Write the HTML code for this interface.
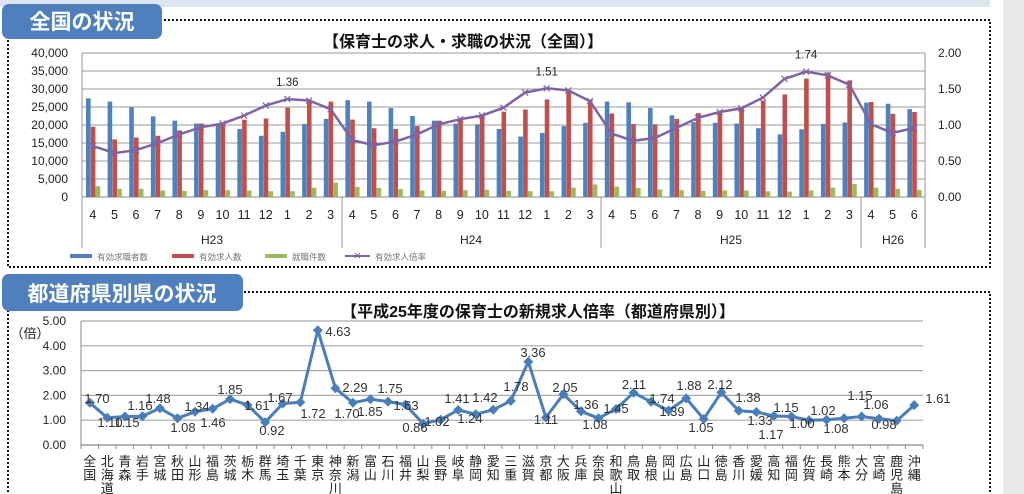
<!DOCTYPE html>
<html><head><meta charset="utf-8"><style>
body{margin:0;width:1024px;height:494px;overflow:hidden;background:#fff;font-family:"Liberation Sans","Noto Sans CJK JP",sans-serif;}
svg{position:absolute;left:0;top:0}
</style></head><body>
<svg id="s" width="1024" height="494" xmlns="http://www.w3.org/2000/svg" font-family="Liberation Sans, Noto Sans CJK JP, sans-serif">
<rect x="0" y="0" width="990" height="7" fill="#dce6f2"/>
<rect x="1003" y="0" width="21" height="494" fill="#e9e9e9"/>
<rect x="8" y="20" width="982" height="247" fill="none" stroke="#111" stroke-width="2" stroke-dasharray="2,2"/>
<rect x="8" y="292" width="982" height="220" fill="none" stroke="#111" stroke-width="2" stroke-dasharray="2,2"/>
<rect x="2" y="4" width="160" height="35" rx="7" fill="#4f7fbd"/>
<text x="82" y="29" font-size="21" font-weight="bold" fill="#fff" text-anchor="middle">全国の状況</text>
<rect x="2" y="274" width="241" height="37" rx="7" fill="#4f7fbd"/>
<text x="122" y="301" font-size="21" font-weight="bold" fill="#fff" text-anchor="middle">都道府県別県の状況</text>
<text x="463" y="47" font-size="16" font-weight="bold" fill="#111" text-anchor="middle">【保育士の求人・求職の状況（全国）】</text>
<text x="538" y="317" font-size="16" font-weight="bold" fill="#111" text-anchor="middle">【平成25年度の保育士の新規求人倍率（都道府県別）】</text>
<text x="30" y="338" font-size="13" fill="#222" text-anchor="middle">（倍）</text>
<g id="top"></g><g id="bot"></g>
</svg>
<script>
var NS="http://www.w3.org/2000/svg";
function el(p,t,a,txt){var e=document.createElementNS(NS,t);for(var k in a)e.setAttribute(k,a[k]);if(txt!==undefined)e.textContent=txt;p.appendChild(e);return e;}
var T=document.getElementById("top");
var L=82,R=925,Y0=197,Y1=53,n=39,w=(R-L)/n;
for(var i=0;i<=8;i++){var y=Y0-i*18;el(T,"line",{x1:L,x2:R,y1:y,y2:y,stroke:i==0?"#888":"#999","stroke-width":1});
el(T,"text",{x:68,y:y+4,"font-size":12,fill:"#222","text-anchor":"end"},(i*5000).toLocaleString("en-US"));}
for(var i=0;i<=4;i++){var y=Y0-i*36;el(T,"text",{x:938,y:y+4,"font-size":12,fill:"#222"},(i*0.5).toFixed(2));}
el(T,"line",{x1:L,x2:L,y1:Y1,y2:248,stroke:"#999"});el(T,"line",{x1:R,x2:R,y1:Y1,y2:248,stroke:"#999"});
[342,601,861].forEach(function(x){el(T,"line",{x1:x,x2:x,y1:Y0,y2:248,stroke:"#999"});});
var B=[27.4,26.5,24.9,22.4,21.2,20.4,20.4,18.9,17.0,18.1,20.3,21.7,26.9,26.5,24.7,22.5,21.2,20.4,20.2,18.9,16.8,17.8,19.7,20.6,26.5,26.3,24.7,22.7,20.8,20.6,20.4,19.1,17.4,18.8,20.3,20.7,26.2,25.9,24.4];
var Rd=[19.5,16.0,16.5,17.0,18.5,20.4,20.4,21.5,21.8,24.8,27.1,26.5,21.5,19.1,18.9,19.7,21.2,21.5,22.5,23.7,24.3,27.1,29.4,27.1,23.2,20.3,20.2,21.7,23.3,23.4,24.6,26.8,28.5,32.9,34.6,32.4,26.4,23.1,23.6];
var G=[3,2.3,2.3,1.8,1.7,1.9,1.9,1.8,1.6,1.6,2.6,4.0,2.8,2.5,2.2,1.8,1.7,1.9,2.0,1.7,1.6,1.6,2.6,3.5,2.9,2.5,2.1,1.9,1.7,1.8,1.8,1.6,1.5,1.8,2.6,3.6,2.6,2.3,2.0];
var Q=[0.71,0.61,0.65,0.75,0.87,0.97,1.02,1.13,1.27,1.36,1.34,1.22,0.79,0.72,0.77,0.87,1.01,1.08,1.13,1.24,1.45,1.51,1.48,1.33,0.88,0.78,0.82,0.96,1.10,1.18,1.23,1.38,1.64,1.74,1.69,1.56,1.01,0.89,0.96];
var M=[4,5,6,7,8,9,10,11,12,1,2,3];
var pts=[];
for(var i=0;i<n;i++){var x=L+i*w;
[[B,"#4f81bd"],[Rd,"#c0504d"],[G,"#9bbb59"]].forEach(function(s,j){var h=s[0][i]*3.6;el(T,"rect",{x:x+4+j*4.8,y:Y0-h,width:4.6,height:h,fill:s[1]});});
el(T,"text",{x:x+w/2,y:219,"font-size":12.5,fill:"#222","text-anchor":"middle"},M[i%12]);
pts.push((x+w/2).toFixed(1)+","+(Y0-Q[i]*72).toFixed(1));}
el(T,"polyline",{points:pts.join(" "),fill:"none",stroke:"#8064a2","stroke-width":2.5});
pts.forEach(function(p){var a=p.split(",").map(Number);el(T,"path",{d:"M"+(a[0]-3)+","+(a[1]-3)+"l6,6m0,-6l-6,6",stroke:"#8064a2","stroke-width":1.2});});
[[9,"1.36"],[21,"1.51"],[33,"1.74"]].forEach(function(a){el(T,"text",{x:L+a[0]*w+w/2,y:Y0-Q[a[0]]*72-13,"font-size":11.5,fill:"#222","text-anchor":"middle"},a[1]);});
[["H23",212],["H24",471],["H25",731],["H26",893]].forEach(function(a){el(T,"text",{x:a[1],y:244,"font-size":12,fill:"#222","text-anchor":"middle"},a[0]);});
[[70,"#4f81bd","有効求職者数"],[172,"#c0504d","有効求人数"],[265,"#9bbb59","就職件数"]].forEach(function(a){el(T,"rect",{x:a[0],y:254,width:22,height:4,fill:a[1]});el(T,"text",{x:a[0]+27,y:260,"font-size":8.5,fill:"#777"},a[2]);});
el(T,"line",{x1:345,x2:370,y1:256,y2:256,stroke:"#8064a2","stroke-width":2});el(T,"path",{d:"M355,253l5,5m0,-5l-5,5",stroke:"#8064a2"});
el(T,"text",{x:375,y:260,"font-size":8.5,fill:"#777"},"有効求人倍率");

var Bt=document.getElementById("bot");
var l=81,r=923,b0=445,u=24.8,m=48,cw=(r-l)/m;
for(var i=0;i<=5;i++){var y=b0-i*u;el(Bt,"line",{x1:l,x2:r,y1:y,y2:y,stroke:i==0?"#888":"#aaa","stroke-width":1.2});
el(Bt,"text",{x:66,y:y+4,"font-size":12,fill:"#222","text-anchor":"end"},i.toFixed(2));}
el(Bt,"line",{x1:l,x2:l,y1:b0-5*u,y2:b0,stroke:"#888"});
for(var i=0;i<=m;i++){el(Bt,"line",{x1:l+i*cw,x2:l+i*cw,y1:b0,y2:b0+4,stroke:"#888"});}
var V=[1.70,1.10,1.15,1.16,1.48,1.08,1.34,1.46,1.85,1.61,0.92,1.67,1.72,4.63,2.29,1.70,1.85,1.75,1.63,0.86,1.02,1.41,1.24,1.42,1.78,3.36,1.11,2.05,1.36,1.08,1.45,2.11,1.74,1.39,1.88,1.05,2.12,1.38,1.33,1.17,1.15,1.00,1.02,1.08,1.15,1.06,0.98,1.61];
var P=["全国","北海道","青森","岩手","宮城","秋田","山形","福島","茨城","栃木","群馬","埼玉","千葉","東京","神奈川","新潟","富山","石川","福井","山梨","長野","岐阜","静岡","愛知","三重","滋賀","京都","大阪","兵庫","奈良","和歌山","鳥取","島根","岡山","広島","山口","徳島","香川","愛媛","高知","福岡","佐賀","長崎","熊本","大分","宮崎","鹿児島","沖縄"];
var LP=[[97,398],[110,422],[127,422],[140,405],[158,398],[183,427],[197,406],[213,422],[230,389],[257,405],[272,430],[280,397],[313,413],[338,331],[355,387],[347,413],[370,411],[390,388],[406,405],[415,427],[437,421],[457,398],[470,418],[485,397],[516,386],[533,352],[546,419],[565,387],[586,404],[595,424],[616,408],[634,384],[662,398],[672,411],[689,385],[701,427],[720,384],[748,397],[760,420],[771,434],[786,407],[802,423],[823,410],[836,428],[860,395],[876,404],[884,424],[938,398]];
var pp=[];
for(var i=0;i<m;i++){var x=l+i*cw+cw/2,y=b0-V[i]*u;pp.push(x.toFixed(1)+","+y.toFixed(1));
var ch=P[i].split("");ch.forEach(function(c,k){el(Bt,"text",{x:x,y:466+k*13.5,"font-size":13,fill:"#222","text-anchor":"middle"},c);});}
el(Bt,"polyline",{points:pp.join(" "),fill:"none",stroke:"#4a7ebb","stroke-width":3,"stroke-linejoin":"round"});
pp.forEach(function(p,i){var a=p.split(",").map(Number);el(Bt,"path",{d:"M"+a[0]+","+(a[1]-5)+"l5,5l-5,5l-5,-5z",fill:"#4a7ebb"});
el(Bt,"text",{x:LP[i][0],y:LP[i][1]+5,"font-size":13,fill:"#333","text-anchor":"middle"},V[i].toFixed(2));});
</script>
</body></html>
